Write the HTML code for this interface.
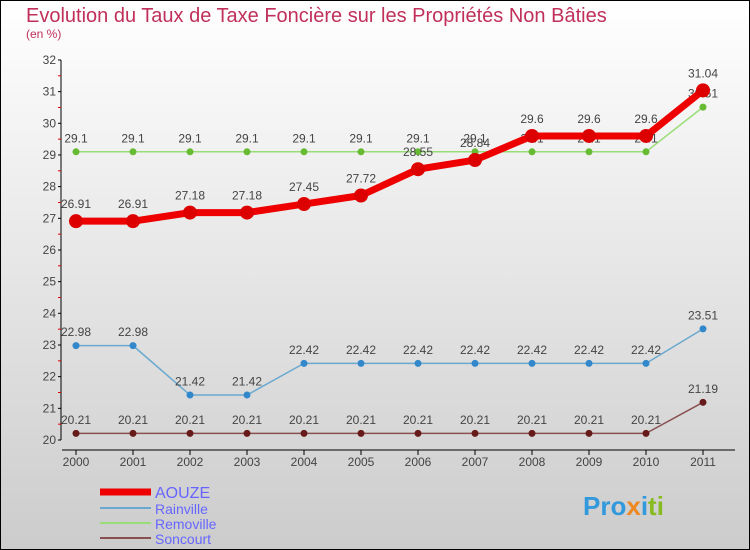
<!DOCTYPE html>
<html><head><meta charset="utf-8"><style>
body{margin:0;width:750px;height:550px;overflow:hidden;font-family:"Liberation Sans",sans-serif}
#c{position:absolute;left:0;top:0;width:748px;height:548px;border:1px solid #000;background:linear-gradient(#fff,#ccc)}
</style></head><body>
<div id="c"></div>
<svg id="s" width="750" height="550" style="position:absolute;left:0;top:0" font-family="Liberation Sans, sans-serif">
<text x="26" y="22" font-size="20" fill="#c0305a">Evolution du Taux de Taxe Foncière sur les Propriétés Non Bâties</text>
<text x="26" y="38" font-size="12" fill="#c0305a">(en %)</text>
</svg>
<script>
const years=["2000","2001","2002","2003","2004","2005","2006","2007","2008","2009","2010","2011"];
const yTicks=[20,21,22,23,24,25,26,27,28,29,30,31,32];
const aouze=[26.91,26.91,27.18,27.18,27.45,27.72,28.55,28.84,29.6,29.6,29.6,31.04];
const rainville=[22.98,22.98,21.42,21.42,22.42,22.42,22.42,22.42,22.42,22.42,22.42,23.51];
const removille=[29.1,29.1,29.1,29.1,29.1,29.1,29.1,29.1,29.1,29.1,29.1,30.51];
const soncourt=[20.21,20.21,20.21,20.21,20.21,20.21,20.21,20.21,20.21,20.21,20.21,21.19];
const NS="http://www.w3.org/2000/svg",s=document.getElementById('s');
const X=i=>76+i*57.0,Y=v=>440-(v-20)*31.67;
function el(t,a,p){const e=document.createElementNS(NS,t);for(const k in a)e.setAttribute(k,a[k]);(p||s).appendChild(e);return e;}
let ax=el('line',{x1:61,y1:60,x2:61,y2:440,stroke:'#000'});


let xa=el('line',{x1:62,y1:450,x2:735,y2:450,stroke:'#000'});


yTicks.forEach(v=>{
  el('line',{x1:58,x2:61,y1:Y(v),y2:Y(v),stroke:'#000'});
  if(v<32)el('line',{x1:58,x2:61,y1:Y(v+0.5),y2:Y(v+0.5),stroke:'#d00'});
  const t=el('text',{x:56,y:Y(v)+4,'text-anchor':'end','font-size':12,fill:'#444'});t.textContent=v;
  
  
});
years.forEach((y,i)=>{
  el('line',{x1:X(i),x2:X(i),y1:450,y2:455,stroke:'#000'});
  const t=el('text',{x:X(i),y:466,'text-anchor':'middle','font-size':12,fill:'#444'});t.textContent=y;
  
  
});
function series(d,col,fill,w,r,name,labelsAbove){
  const g=el('g',{});
  
  
  el('polyline',{points:d.map((v,i)=>X(i)+','+Y(v)).join(' '),fill:'none',stroke:col,'stroke-width':w,'stroke-linejoin':'round'},g);
  d.forEach((v,i)=>{
    const c=el('circle',{cx:X(i),cy:Y(v),r:r,fill:fill},g);
    
    
    const t=el('text',{x:X(i),y:Y(v)-(r+6),'text-anchor':'middle','font-size':12,fill:'#444'},g);t.textContent=String(v);
    
    
  });
}
series(removille,'#99dd77','#66bb33',1.5,3.5,'removille');
series(rainville,'#6aa8d0','#3388cc',1.5,3.5,'rainville');
series(soncourt,'#8a5050','#661a1a',1.5,3.5,'soncourt');
series(aouze,'#ee0000','#dd0000',7,7,'aouze');
const leg=[["AOUZE","#ee0000",7,16],["Rainville","#6aa8d0",2,14],["Removille","#99dd77",2,14],["Soncourt","#8a5050",2,14]];
leg.forEach((l,i)=>{
  const y=[492,508,523,538][i];
  const g=el('g',{});
  
  
  el('line',{x1:100,x2:151,y1:y,y2:y,stroke:l[1],'stroke-width':l[2]},g);
  const t=el('text',{x:155,y:y+6,'font-size':l[3],fill:'#6666ff'},g);t.textContent=l[0];
});
const p=el('text',{x:583,y:515,'font-size':26,'font-weight':'bold',fill:'#ee8822'});


p.innerHTML='<tspan fill="#3399dd">Pro</tspan><tspan fill="#ee8822">x</tspan><tspan fill="#3399dd">i</tspan><tspan fill="#88bb22">ti</tspan>';
</script>
</body></html>
